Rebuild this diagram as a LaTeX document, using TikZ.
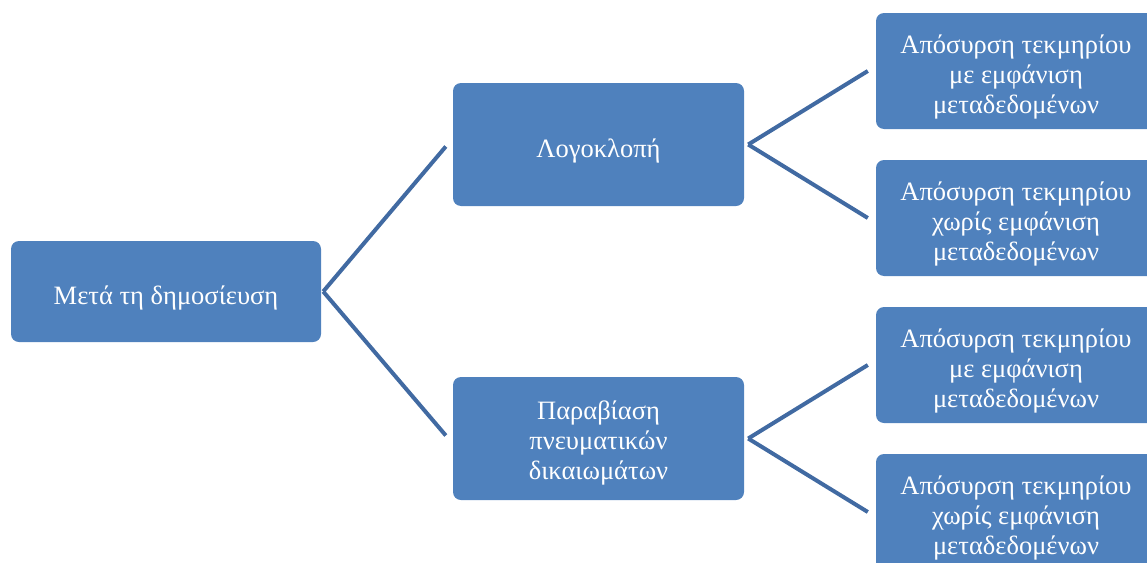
\documentclass[tikz,border=0pt]{standalone}
\usepackage{fontspec}
\setmainfont{Liberation Serif}
\definecolor{boxblue}{HTML}{4F81BD}
\definecolor{lineblue}{HTML}{416AA2}
\newcommand{\dropline}{\rule{0pt}{31pt}}
\begin{document}
\begin{tikzpicture}[x=1pt,y=-1pt,
  box/.style={fill=boxblue, draw=none, rounded corners=8pt, text=white, align=center,
    font=\fontsize{26.5}{30}\selectfont, inner sep=0pt},
  conn/.style={draw=lineblue, line width=4pt}]
\useasboundingbox (0,0) rectangle (1147,562);
\clip (0,0) rectangle (1147,562);
\node[box, minimum width=310pt, minimum height=101pt] (root) at (166,291.5) {\dropline Μετά τη δημοσίευση};
\node[box, minimum width=291pt, minimum height=123pt] (plag) at (598.5,144.5) {\dropline Λογοκλοπή};
\node[box, minimum width=291pt, minimum height=123pt] (ipr) at (598.5,438.5) {\rule{0pt}{27pt}Παραβίαση\\πνευματικών\\δικαιωμάτων};
\node[box, minimum width=280pt, minimum height=116pt] (a1) at (1016,71) {\dropline Απόσυρση τεκμηρίου\\με εμφάνιση\\μεταδεδομένων};
\node[box, minimum width=280pt, minimum height=116pt] (a2) at (1016,218) {\dropline Απόσυρση τεκμηρίου\\χωρίς εμφάνιση\\μεταδεδομένων};
\node[box, minimum width=280pt, minimum height=116pt] (b1) at (1016,365) {\dropline Απόσυρση τεκμηρίου\\με εμφάνιση\\μεταδεδομένων};
\node[box, minimum width=280pt, minimum height=116pt] (b2) at (1016,512) {\dropline Απόσυρση τεκμηρίου\\χωρίς εμφάνιση\\μεταδεδομένων};
\draw[conn] ([xshift=2pt]root.east) -- ([xshift=-7pt,yshift=-2pt]plag.west);
\draw[conn] ([xshift=2pt]root.east) -- ([xshift=-7pt,yshift=3pt]ipr.west);
\draw[conn] ([xshift=4pt]plag.east) -- ([xshift=-8pt]a1.west);
\draw[conn] ([xshift=4pt]plag.east) -- ([xshift=-8pt]a2.west);
\draw[conn] ([xshift=4pt]ipr.east) -- ([xshift=-8pt]b1.west);
\draw[conn] ([xshift=4pt]ipr.east) -- ([xshift=-8pt]b2.west);
\end{tikzpicture}
\end{document}
